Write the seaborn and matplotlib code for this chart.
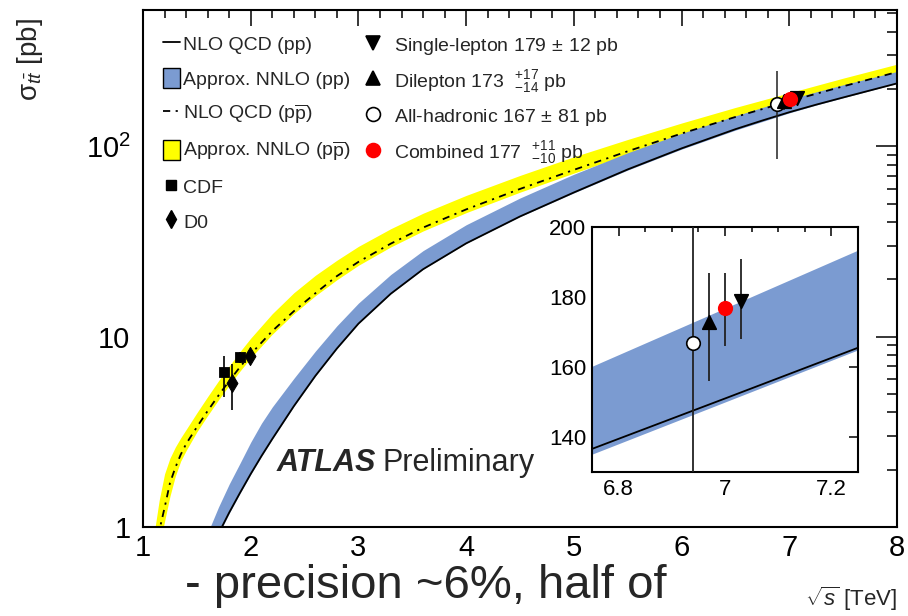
import numpy as np
import pandas as pd
import matplotlib
matplotlib.use("Agg")
import matplotlib.pyplot as plt
import seaborn as sns
from matplotlib.lines import Line2D
from matplotlib.patches import Patch
from matplotlib.ticker import FixedLocator, MultipleLocator, LogLocator, NullFormatter, FuncFormatter, FixedFormatter

sns.set_style("white")
plt.rcParams['font.family'] = ['Liberation Sans', 'DejaVu Sans']
plt.rcParams['mathtext.fontset'] = 'custom'
plt.rcParams['mathtext.rm'] = 'Liberation Sans'
plt.rcParams['mathtext.it'] = 'Liberation Sans:italic'
plt.rcParams['mathtext.bf'] = 'Liberation Sans:bold'

# ---------------- data ----------------
# p-pbar theory
sqrt_s_ppbar = [1.1, 1.15, 1.2, 1.25, 1.3, 1.35, 1.4, 1.5, 1.6, 1.7, 1.8, 1.9, 2.0, 2.2, 2.4, 2.6, 2.8,
                3.0, 3.3, 3.6, 4.0, 4.5, 5.0, 5.5, 6.0, 6.5, 7.0, 7.5, 8.0]
nnlo_ppbar_hi = [0.90, 1.38, 1.90, 2.30, 2.63, 2.94, 3.25, 3.98, 4.84, 5.85, 7.01, 8.34, 9.82, 13.2, 17.0, 21.0, 25.2,
                 29.8, 36.9, 44.5, 55.2, 70.3, 88.1, 108.6, 132.5, 160.0, 191.0, 228.0, 270.0]
nnlo_ppbar_lo = [0.55, 0.78, 1.07, 1.45, 1.85, 2.22, 2.52, 3.16, 3.85, 4.65, 5.56, 6.59, 7.74, 10.3, 13.2, 16.4, 19.9,
                 23.7, 29.6, 35.9, 44.8, 57.4, 72.3, 90.6, 112.2, 137.1, 166.0, 198.6, 236.0]
nlo_ppbar = [0.70, 0.95, 1.26, 1.70, 2.05, 2.40, 2.73, 3.35, 4.07, 4.90, 5.85, 6.92, 8.09, 10.7, 13.6, 16.9, 20.8,
             24.7, 30.8, 37.4, 46.6, 59.7, 75.2, 94.2, 116.7, 142.6, 172.6, 206.5, 245.5]

# p-p theory
sqrt_s_pp = [1.6, 1.7, 1.8, 1.9, 2.0, 2.1, 2.2, 2.4, 2.6, 2.8, 3.0, 3.3, 3.6, 4.0, 4.5, 5.0, 5.5, 6.0,
             6.5, 6.75, 7.0, 7.25, 7.5, 8.0]
nnlo_pp_hi = [0.93, 1.27, 1.68, 2.16, 2.79, 3.51, 4.27, 6.03, 8.39, 11.4, 15.0, 21.2, 28.3, 38.7, 53.5, 71.3,
              92.5, 117.0, 144.5, 160.0, 176.6, 193.2, 210.4, 247.2]
nnlo_pp_lo = [0.71, 0.91, 1.18, 1.50, 1.89, 2.35, 2.89, 4.30, 6.21, 8.65, 11.7, 16.8, 22.6, 30.9, 42.7, 56.9,
              75.0, 96.6, 121.6, 134.9, 149.8, 164.7, 179.8, 213.8]
nlo_pp = [0.72, 0.92, 1.19, 1.51, 1.90, 2.36, 2.90, 4.31, 6.22, 8.66, 11.7, 16.8, 22.6, 30.9, 42.8, 57.2,
          75.6, 97.5, 123.0, 136.6, 151.0, 165.5, 180.5, 214.0]

# Tevatron measurements
cdf_x = [1.75, 1.90]
cdf_y = [6.5, 7.8]
cdf_up = [1.4, 0.5]
cdf_dn = [1.7, 0.5]
d0_x = [1.83, 1.99]
d0_y = [5.7, 7.9]
d0_up = [1.5, 0.6]
d0_dn = [1.6, 0.6]

# ATLAS measurements: single-lepton, dilepton, all-hadronic, combined
atlas_labels = ["Single-lepton 179$\\,\\pm\\,$12 pb",
                "Dilepton 173  $^{+17}_{-14}$ pb",
                "All-hadronic 167$\\,\\pm\\,$81 pb",
                "Combined 177  $^{+11}_{-10}$ pb"]
atlas_y = [179, 173, 167, 177]
atlas_up = [12, 14, 81, 10]
atlas_dn = [11, 17, 81, 11]
atlas_x_main = [7.07, 6.95, 6.89, 7.01]
atlas_x_inset = [7.03, 6.97, 6.94, 7.00]

theory_labels = ["NLO QCD (pp)", "Approx. NNLO (pp)",
                 r"NLO QCD (p$\overline{\mathrm{p}}$)", r"Approx. NNLO (p$\overline{\mathrm{p}}$)",
                 "CDF", "D0"]

# ---------------- style ----------------
BLUE = '#7B9BD1'
YELLOW = '#FFFF00'
DASHDOT = (0, (4, 3, 1.2, 3))
atlas_markers = ['v', '^', 'o', 'o']
atlas_face = ['black', 'black', 'white', 'red']
atlas_edge = ['black', 'black', 'black', 'red']

W, H = 908, 616
fig = plt.figure(figsize=(W / 100, H / 100), dpi=100)
ax = fig.add_axes([143 / W, 1 - 527 / H, (897 - 143) / W, (527 - 10) / H])
ax.set_yscale('log')

ax.fill_between(sqrt_s_ppbar, nnlo_ppbar_lo, nnlo_ppbar_hi, color=YELLOW, lw=0, zorder=1)
ax.fill_between(sqrt_s_pp, nnlo_pp_lo, nnlo_pp_hi, color=BLUE, lw=0, zorder=2)
sns.lineplot(x=sqrt_s_pp, y=nlo_pp, ax=ax, color='black', lw=1.3, zorder=3)
sns.lineplot(x=sqrt_s_ppbar, y=nlo_ppbar, ax=ax, color='black', lw=1.3, linestyle=DASHDOT, zorder=3)

# Tevatron points
ax.errorbar(cdf_x, cdf_y, yerr=[cdf_dn, cdf_up], fmt='none', ecolor='black', elinewidth=1.2, zorder=4)
ax.errorbar(d0_x, d0_y, yerr=[d0_dn, d0_up], fmt='none', ecolor='black', elinewidth=1.2, zorder=4)
sns.scatterplot(x=cdf_x, y=cdf_y, ax=ax, marker='s', s=55, color='black', edgecolor='black', zorder=5)
sns.scatterplot(x=d0_x, y=d0_y, ax=ax, marker='d', s=85, color='black', edgecolor='black', zorder=5)

# ATLAS points main
ax.errorbar(atlas_x_main, atlas_y, yerr=[atlas_dn, atlas_up], fmt='none', ecolor='#222222', elinewidth=1.1, zorder=4)
for i in [2, 1, 0, 3]:
    sns.scatterplot(x=[atlas_x_main[i]], y=[atlas_y[i]], ax=ax, marker=atlas_markers[i], s=95,
                    color=atlas_face[i], edgecolor=atlas_edge[i], linewidth=1.2, zorder=5)

ax.set_xlim(1, 8)
ax.set_ylim(1, 520)
ax.xaxis.set_major_locator(MultipleLocator(1))
ax.xaxis.set_minor_locator(MultipleLocator(0.2))
ax.xaxis.set_major_formatter(FuncFormatter(lambda v, p: f"{v:g}"))
ax.yaxis.set_major_locator(FixedLocator([1, 10, 100]))
ax.yaxis.set_major_formatter(FixedFormatter(["1", "10", r"$10^{2}$"]))
ax.yaxis.set_minor_locator(LogLocator(base=10, subs=np.arange(2, 10), numticks=20))
ax.yaxis.set_minor_formatter(NullFormatter())
ax.tick_params(axis='both', which='both', direction='in', top=True, right=True, width=1.1, colors='black')
ax.tick_params(axis='x', which='major', length=11.5, labelsize=21, pad=5)
ax.tick_params(axis='x', which='minor', length=5.8)
ax.tick_params(axis='y', which='major', length=15, labelsize=21, pad=9)
ax.tick_params(axis='y', which='minor', length=7.2)
for sp in ax.spines.values():
    sp.set_linewidth(1.5)
    sp.set_color('black')
ax.set_xlabel('')
ax.set_ylabel('')

# Legends
leg_h1 = [Line2D([], [], color='black', lw=1.3),
          Patch(facecolor=BLUE, edgecolor='black', lw=1.0),
          Line2D([], [], color='black', lw=1.3, linestyle=DASHDOT),
          Patch(facecolor=YELLOW, edgecolor='black', lw=1.0),
          Line2D([], [], color='black', marker='s', ls='none', ms=7.5),
          Line2D([], [], color='black', marker='d', ls='none', ms=9)]
leg1 = ax.legend(leg_h1, theory_labels, loc='upper left', bbox_to_anchor=(0.0265, 0.955),
                 frameon=False, fontsize=14, handlelength=0.85, handleheight=1.25, handletextpad=0.2,
                 labelspacing=0.70, borderpad=0, borderaxespad=0)
ax.add_artist(leg1)
leg_h2 = [Line2D([], [], ls='none', marker=atlas_markers[i], markerfacecolor=atlas_face[i],
                 markeredgecolor=atlas_edge[i], ms=10, mew=1.2) for i in range(4)]
leg2 = ax.legend(leg_h2, atlas_labels, loc='upper left', bbox_to_anchor=(0.2927, 0.953),
                 frameon=False, fontsize=14, handlelength=1.0, handleheight=1.25, handletextpad=0.55,
                 labelspacing=0.55, borderpad=0, borderaxespad=0)

ax.text((277 - 143) / 755, 1 - (471 - 10) / 517, "ATLAS", transform=ax.transAxes,
        fontsize=22, fontweight='bold', fontstyle='italic', va='baseline', ha='left')
ax.text((383 - 143) / 755, 1 - (471 - 10) / 517, "Preliminary", transform=ax.transAxes,
        fontsize=22, va='baseline', ha='left')

# ---------------- inset ----------------
axin = fig.add_axes([592 / W, 1 - 472 / H, (858 - 592) / W, (472 - 227) / H])
axin.set_facecolor('white')
axin.fill_between(sqrt_s_pp, nnlo_pp_lo, nnlo_pp_hi, color=BLUE, lw=0, zorder=1)
sns.lineplot(x=sqrt_s_pp, y=nlo_pp, ax=axin, color='black', lw=1.3, zorder=2)
axin.errorbar(atlas_x_inset, atlas_y, yerr=[atlas_dn, atlas_up], fmt='none', ecolor='#222222', elinewidth=1.3, zorder=3)
for i in range(4):
    sns.scatterplot(x=[atlas_x_inset[i]], y=[atlas_y[i]], ax=axin, marker=atlas_markers[i], s=95,
                    color=atlas_face[i], edgecolor=atlas_edge[i], linewidth=1.2, zorder=4)
axin.set_xlim(6.75, 7.25)
axin.set_ylim(130, 200)
axin.xaxis.set_major_locator(MultipleLocator(0.2))
axin.xaxis.set_minor_locator(MultipleLocator(0.05))
axin.xaxis.set_major_formatter(FuncFormatter(lambda v, p: f"{v:g}"))
axin.yaxis.set_major_locator(MultipleLocator(20))
axin.tick_params(axis='both', which='both', direction='in', top=True, right=True, width=1.1, colors='black')
axin.tick_params(axis='both', which='major', length=6.5, labelsize=16)
axin.tick_params(axis='x', which='major', pad=5)
axin.tick_params(axis='y', which='major', pad=4)
axin.tick_params(axis='both', which='minor', length=3.5)
for sp in axin.spines.values():
    sp.set_linewidth(1.5)
    sp.set_color('black')
axin.set_xlabel('')
axin.set_ylabel('')

# ---------------- figure texts ----------------
fig.text(30 / W, 1 - 18 / H, "σ$_{t\\bar{t}}$ [pb]", rotation=90, va='top', ha='center', fontsize=20)
fig.text(897 / W, 1 - 606 / H, r"$\sqrt{s}$ [TeV]", ha='right', va='baseline', fontsize=16)
fig.text(185 / W, 1 - 598 / H, "- precision ~6%, half of", ha='left', va='baseline', fontsize=34)

fig.savefig("out.png", dpi=100)
